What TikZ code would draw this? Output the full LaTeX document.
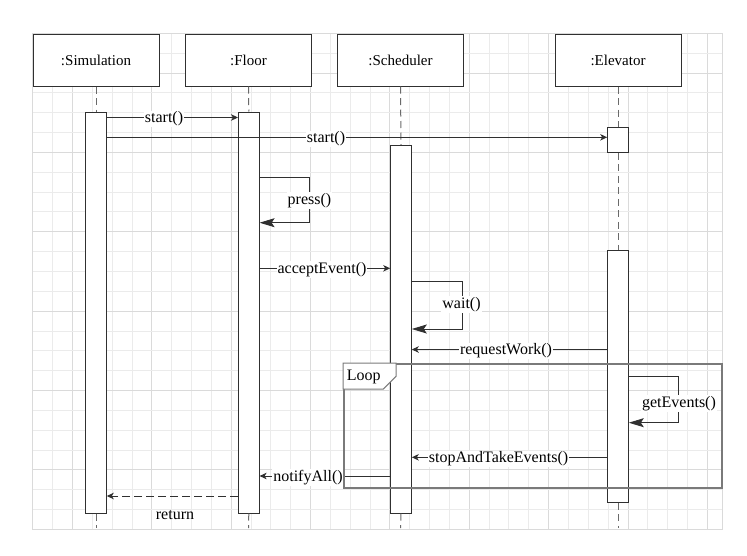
\documentclass[tikz,border=0pt]{standalone}
\usepackage{fontspec}
\setmainfont{Liberation Serif}
\usetikzlibrary{arrows.meta}
\definecolor{gridminor}{HTML}{EBEBEB}
\definecolor{gridmajor}{HTML}{DADADA}
\definecolor{ink}{HTML}{303030}
\definecolor{lifegray}{HTML}{6A6A6A}
\definecolor{loopgray}{HTML}{7A7A7A}
\begin{document}
\begin{tikzpicture}[x=1pt,y=-1pt,
  every node/.style={font=\fontsize{15}{18}\selectfont, text=black},
  headbox/.style={draw=ink, line width=1pt, fill=white, minimum width=126pt, minimum height=52pt, inner sep=0pt},
  actbar/.style={draw=ink, line width=1pt, fill=white, minimum width=20.6pt, inner sep=0pt},
  lifeline/.style={draw=lifegray, line width=1pt, dash pattern=on 7pt off 4.5pt},
  msg/.style={draw=ink, line width=0.9pt, -{Stealth[length=7pt,width=6.5pt,inset=2pt]}},
  selfmsg/.style={draw=ink, line width=0.9pt, -{Stealth[length=15pt,width=9pt,inset=3pt]}},
  retmsg/.style={msg, dash pattern=on 8pt off 4pt},
  lbl/.style={fill=white, inner sep=1pt, font=\fontsize{16}{19}\selectfont}]
\useasboundingbox (0,0) rectangle (747,555);
% grid
\foreach \k in {0,...,34}{%
  \pgfmathtruncatemacro\m{mod(\k,4)}%
  \ifnum\m=2 \def\gc{gridmajor}\else\def\gc{gridminor}\fi
  \draw[\gc, line width=0.8pt] ({32.7+19.84*\k},33.3) -- ({32.7+19.84*\k},529.3);}
\foreach \k in {0,...,25}{%
  \pgfmathtruncatemacro\m{mod(\k,4)}%
  \ifnum\m=2 \def\gc{gridmajor}\else\def\gc{gridminor}\fi
  \draw[\gc, line width=0.8pt] (32.7,{33.3+19.84*\k}) -- (722.3,{33.3+19.84*\k});}
\draw[gridmajor, line width=0.8pt] (32.7,33.3) rectangle (722.3,529.3);

% header boxes
\node[headbox] (sim) at (96,60) {:Simulation};
\node[headbox] (floor) at (248.5,60) {:Floor};
\node[headbox] (sched) at (400.5,60) {:Scheduler};
\node[headbox] (elev) at (618,60) {:Elevator};

% bottom anchors
\coordinate (yend) at (0,528);
\coordinate (simend) at (sim.south |- yend);
\coordinate (floorend) at (floor.south |- yend);
\coordinate (schedend) at (sched.south |- yend);
\coordinate (elevend) at (elev.south |- yend);

% activation bars
\node[actbar, minimum height=401pt] (simbar) at (96,312.5) {};
\node[actbar, minimum height=401pt] (floorbar) at (248.8,312.5) {};
\node[actbar, minimum height=367.7pt] (schedbar) at (401,329.2) {};
\node[actbar, minimum height=25pt] (elevbarA) at (618,139.8) {};
\node[actbar, minimum height=252pt] (elevbarB) at (618,376.3) {};

% lifelines
\draw[lifeline] (sim.south) -- (simbar.north);
\draw[lifeline] (simbar.south) -- (simend);
\draw[lifeline] (floor.south) -- (floorbar.north);
\draw[lifeline] (floorbar.south) -- (floorend);
\draw[lifeline] (sched.south) -- (schedbar.north);
\draw[lifeline] (schedbar.south) -- (schedend);
\draw[lifeline] (elev.south) -- (elevbarA.north);
\draw[lifeline] (elevbarA.south) -- (elevbarB.north);
\draw[lifeline] (elevbarB.south) -- (elevend);

% message levels
\coordinate (m1) at (0,117.5);
\coordinate (m2) at (0,137.3);
\coordinate (m3a) at (0,177);
\coordinate (m3b) at (0,222.7);
\coordinate (m4) at (0,268.3);
\coordinate (m5a) at (0,281.7);
\coordinate (m5b) at (0,329);
\coordinate (m6) at (0,349.5);
\coordinate (m7a) at (0,376);
\coordinate (m7b) at (0,422.7);
\coordinate (m8) at (0,457.3);
\coordinate (m9) at (0,476);
\coordinate (m10) at (0,496);

% messages
\draw[msg] (simbar.east |- m1) -- (floorbar.west |- m1);
\node[lbl] (l1) at (164,119) {start()};
\draw[msg] (simbar.east |- m2) -- (elevbarA.west |- m2);
\node[lbl] (l2) at (326,139) {start()};
\draw[selfmsg] (floorbar.east |- m3a) -- ++(50,0) |- (floorbar.east |- m3b);
\node[lbl] (l3) at (309.5,200.5) {press()};
\draw[msg] (floorbar.east |- m4) -- (schedbar.west |- m4);
\node[lbl] (l4) at (322,269.5) {acceptEvent()};
\draw[selfmsg] (schedbar.east |- m5a) -- ++(50.5,0) |- (schedbar.east |- m5b);
\node[lbl] (l5) at (461.5,304.5) {wait()};
\draw[msg] (elevbarB.west |- m6) -- (schedbar.east |- m6);
\node[lbl] (l6) at (506,351) {requestWork()};
\draw[selfmsg] (elevbarB.east |- m7a) -- ++(50,0) |- (elevbarB.east |- m7b);
\node[lbl] (l7) at (679,403.5) {getEvents()};
\draw[msg] (elevbarB.west |- m8) -- (schedbar.east |- m8);
\node[lbl] (l8) at (498.5,459) {stopAndTakeEvents()};
\draw[msg] (schedbar.west |- m9) -- (floorbar.east |- m9);
\node[lbl] (l9) at (308,477.5) {notifyAll()};
\draw[retmsg] (floorbar.west |- m10) -- (simbar.east |- m10);
\node[font=\fontsize{16}{19}\selectfont] (l10) at (175,515) {return};

% loop frame
\node[draw=loopgray, line width=1.6pt, minimum width=378pt, minimum height=124pt, inner sep=0pt] (loop) at (533,426) {};
\draw[draw=loopgray, line width=1pt, fill=white]
  (loop.north west) -- ++(53,0) -- ++(0,13) -- ++(-13,13) -- ++(-40,0) -- cycle;
\node[inner sep=0pt, anchor=west, font=\fontsize{16}{19}\selectfont] (looplbl) at ([xshift=3.5pt,yshift=-13.5pt]loop.north west) {Loop};
\end{tikzpicture}
\end{document}
